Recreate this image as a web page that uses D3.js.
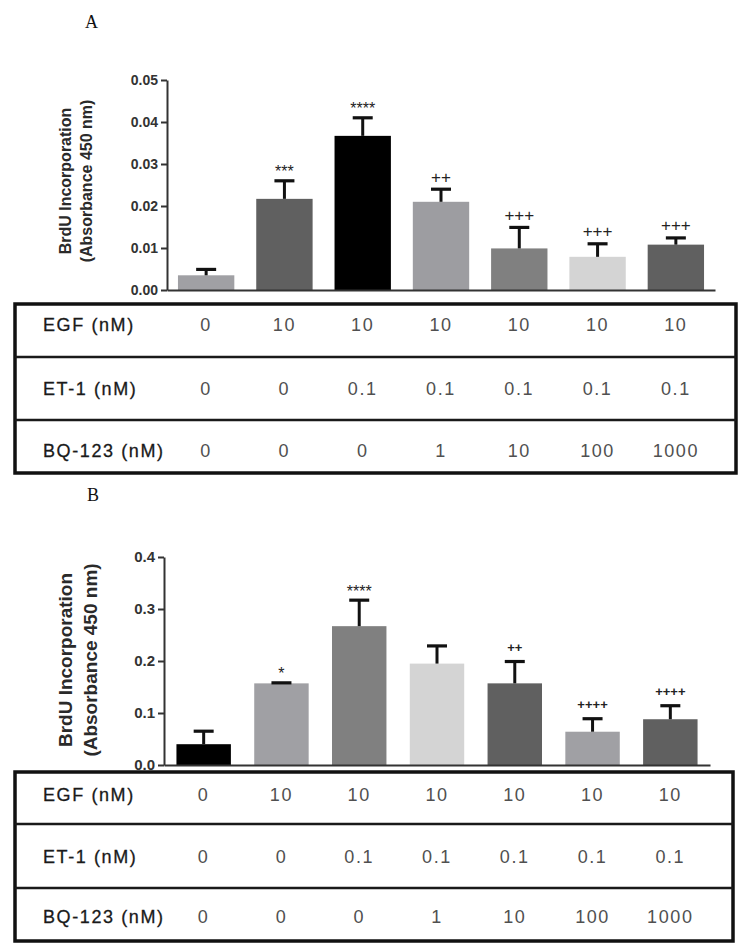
<!DOCTYPE html>
<html><head><meta charset="utf-8">
<script src="https://cdn.jsdelivr.net/npm/d3@7"></script>
<style>body{margin:0;background:#fff} svg{display:block}</style>
</head><body>
<svg id="c" width="750" height="943"></svg>
<script>
// ---------- DATA ----------
const groups = ["g1", "g2", "g3", "g4", "g5", "g6", "g7"];
const rowLabels = ["EGF (nM)", "ET-1 (nM)", "BQ-123 (nM)"];
const egfDose = ["0", "10", "10", "10", "10", "10", "10"];
const et1Dose = ["0", "0", "0.1", "0.1", "0.1", "0.1", "0.1"];
const bq123Dose = ["0", "0", "0", "1", "10", "100", "1000"];

const yTitle1 = "BrdU Incorporation";
const yTitle2 = "(Absorbance 450 nm)";

const meanA = [0.0035, 0.0217, 0.0367, 0.0210, 0.0099, 0.0079, 0.0108];
const semA  = [0.0014, 0.0043, 0.0043, 0.0030, 0.0050, 0.0031, 0.0016];
const sigA  = ["", "***", "****", "++", "+++", "+++", "+++"];
const ticksA = [0, 0.01, 0.02, 0.03, 0.04, 0.05];

const meanB = [0.040, 0.157, 0.267, 0.195, 0.157, 0.064, 0.088];
const semB  = [0.025, 0.001, 0.050, 0.034, 0.042, 0.025, 0.026];
const sigB  = ["", "*", "****", "", "++", "++++", "++++"];
const ticksB = [0, 0.1, 0.2, 0.3, 0.4];

// ---------- STYLES ----------
const colorsA = ["#a0a0a4", "#606060", "#000000", "#9d9da1", "#808080", "#d4d4d4", "#606060"];
const colorsB = ["#000000", "#a0a0a4", "#808080", "#d4d4d4", "#606060", "#a0a0a4", "#606060"];

const svg = d3.select("#c");

const panels = [
  { letter: "A", letterX: 85, letterY: 28, x0: 167, x1: 715, yTop: 80, yBot: 290,
    max: 0.05, ticks: ticksA, fmt: ".2f", mean: meanA, sem: semA, sig: sigA, colors: colorsA,
    pi: 0.28, po: 0.14, titleX: [65, 86], titleY: 181, titleSize: 16, tickFont: 14,
    tickFamily: "Liberation Sans, Arial, sans-serif",
    plusSize: 17, plusWeight: "normal", plusGap: 5, starSize: 16, starGap: 2,
    table: { left: 15, right: 736, top: 304, bottom: 473, lines: [357, 420], textY: [331, 395, 457] } },
  { letter: "B", letterX: 87, letterY: 501, x0: 164, x1: 710, yTop: 557, yBot: 765,
    max: 0.4, ticks: ticksB, fmt: ".1f", mean: meanB, sem: semB, sig: sigB, colors: colorsB,
    pi: 0.30, po: 0.16, titleX: [65, 90], titleY: 660, titleSize: 19, tickFont: 15,
    tickFamily: "'Liberation Sans Narrow', 'Arial Narrow', Arial, sans-serif",
    plusSize: 13, plusWeight: "bold", plusGap: 8, starSize: 16, starGap: 2,
    table: { left: 15, right: 733, top: 772, bottom: 941, lines: [824, 888], textY: [801, 863, 923] } }
];

const doses = [egfDose, et1Dose, bq123Dose];

panels.forEach(p => {
  const g = svg.append("g");
  const x = d3.scaleBand().domain(groups).range([p.x0, p.x1]).paddingInner(p.pi).paddingOuter(p.po);
  const y = d3.scaleLinear().domain([0, p.max]).range([p.yBot, p.yTop]);

  // panel letter
  g.append("text").attr("x", p.letterX).attr("y", p.letterY)
    .attr("font-family", "Liberation Serif, 'Times New Roman', serif")
    .attr("font-size", 18).attr("fill", "#111").text(p.letter);

  // bars
  g.selectAll("rect.bar").data(groups).join("rect").attr("class", "bar")
    .attr("x", d => x(d)).attr("width", x.bandwidth())
    .attr("y", (d, i) => y(p.mean[i]))
    .attr("height", (d, i) => y(0) - y(p.mean[i]))
    .attr("fill", (d, i) => p.colors[i]);

  // error bars (upper)
  const cap = 20;
  groups.forEach((d, i) => {
    const cx = x(d) + x.bandwidth() / 2;
    const top = y(p.mean[i] + p.sem[i]);
    g.append("line").attr("x1", cx).attr("x2", cx).attr("y1", y(p.mean[i])).attr("y2", top)
      .attr("stroke", "#111").attr("stroke-width", 3);
    g.append("line").attr("x1", cx - cap / 2).attr("x2", cx + cap / 2).attr("y1", top).attr("y2", top)
      .attr("stroke", "#111").attr("stroke-width", 3.2);
    const s = p.sig[i];
    if (s) {
      const isStar = s[0] === "*";
      g.append("text").attr("x", cx).attr("y", top - (isStar ? p.starGap : p.plusGap) - 1.5)
        .attr("text-anchor", "middle")
        .attr("font-family", "Liberation Sans, Arial, sans-serif")
        .attr("font-size", isStar ? p.starSize : p.plusSize)
        .attr("font-weight", isStar ? "normal" : p.plusWeight)
        .attr("fill", "#222").text(s);
    }
  });

  // axes
  const ya = g.append("g").attr("transform", `translate(${p.x0},0)`)
    .call(d3.axisLeft(y).tickValues(p.ticks).tickFormat(d3.format(p.fmt)).tickSize(6).tickSizeOuter(0).tickPadding(3));
  ya.select(".domain").attr("stroke", "#333").attr("stroke-width", 2);
  ya.selectAll(".tick line").attr("stroke", "#333").attr("stroke-width", 2);
  ya.selectAll(".tick text").attr("font-family", p.tickFamily).attr("font-size", p.tickFont)
    .attr("font-weight", "bold").attr("fill", "#333");

  const xa = g.append("g").attr("transform", `translate(0,${p.yBot})`)
    .call(d3.axisBottom(x).tickSize(0).tickSizeOuter(0).tickFormat(""));
  xa.select(".domain").attr("stroke", "#333").attr("stroke-width", 2);

  // y title
  const tg = g.append("g").attr("transform", "rotate(-90)");
  [yTitle1, yTitle2].forEach((t, k) => {
    tg.append("text").attr("x", -p.titleY).attr("y", p.titleX[k]).attr("dy", "0.36em")
      .attr("text-anchor", "middle")
      .attr("font-family", "Liberation Sans, Arial, sans-serif")
      .attr("font-size", p.titleSize).attr("font-weight", "bold").attr("fill", "#2a2a2a").text(t);
  });

  // table
  const t = p.table;
  g.append("rect").attr("x", t.left).attr("y", t.top)
    .attr("width", t.right - t.left).attr("height", t.bottom - t.top)
    .attr("fill", "none").attr("stroke", "#111").attr("stroke-width", 3.5);
  t.lines.forEach(ly => g.append("line").attr("x1", t.left).attr("x2", t.right)
    .attr("y1", ly).attr("y2", ly).attr("stroke", "#1a1a1a").attr("stroke-width", 2.5));
  rowLabels.forEach((lab, r) => {
    g.append("text").attr("x", 43).attr("y", t.textY[r])
      .attr("font-family", "Liberation Sans, Arial, sans-serif").attr("font-size", 18)
      .attr("letter-spacing", 1.6).attr("fill", "#1a1a1a").attr("stroke", "#1a1a1a").attr("stroke-width", 0.3)
      .text(lab);
    g.selectAll(null).data(groups).join("text")
      .attr("x", d => x(d) + x.bandwidth() / 2).attr("y", t.textY[r])
      .attr("text-anchor", "middle")
      .attr("font-family", "Liberation Sans, Arial, sans-serif").attr("font-size", 18)
      .attr("letter-spacing", 1.6).attr("fill", "#505050")
      .text((d, i) => doses[r][i]);
  });
});
</script>
</body></html>
